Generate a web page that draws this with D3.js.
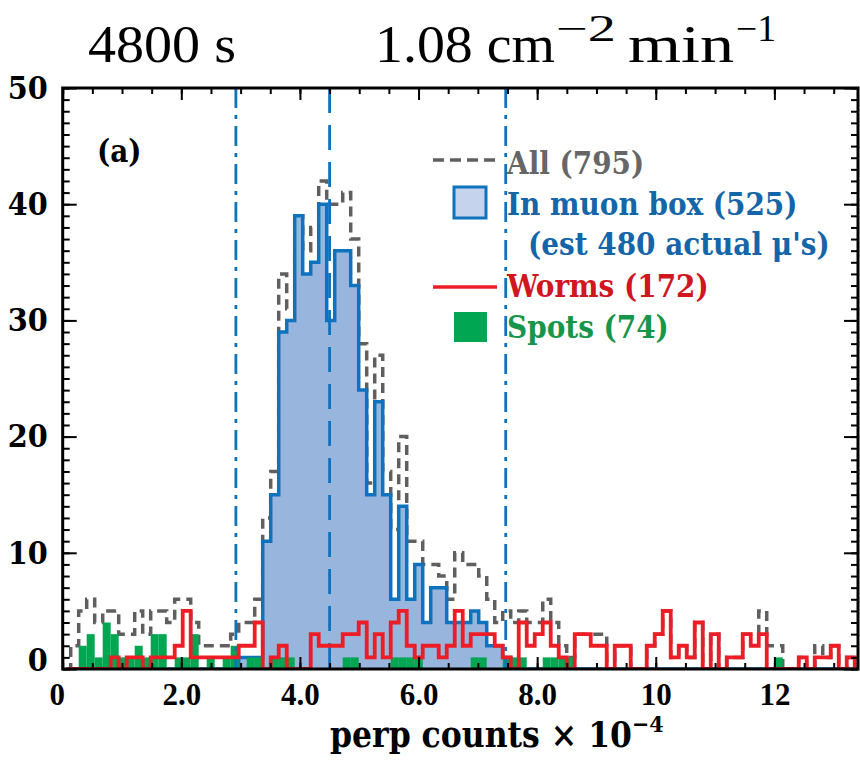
<!DOCTYPE html>
<html>
<head>
<meta charset="utf-8">
<script src="https://cdn.jsdelivr.net/npm/d3@7"></script>
<style>
  body { margin: 0; background: #fff; }
  text { font-family: "Liberation Serif", serif; }
  .lab { font-family: "DejaVu Serif Condensed", "DejaVu Serif", serif; font-stretch: condensed; font-weight: bold; }
  .num { font-family: "Liberation Serif", serif; font-weight: bold; }
</style>
</head>
<body>
<div id="chart"></div>
<script>
var width = 860;
var height = 764;

// histogram bins start at 0, 100 bins of equal width
var binWidth = 0.1349;
var xMax = 13.41;
var yMax = 50;

var allCounts = [0,2,5,6,4,5,5,3,3,5, 3,5,5,4,6,6,4,2,2,2, 2,3,4,4,6,13,17,34,31,39,
  36,38,42,40,40,41,37,28,16,27, 17,12,20,11,11,9,9,8,6,10, 9,9,8,6,4,5,4,5,4,4,
  6,4,2,1,3,3,3,3,0,2, 2,0,0,2,3,5,1,2,1,4, 0,3,0,1,1,3,3,5,2,2, 0,0,1,0,2,1,2,0,1,0];
var muonCounts = [0,0,0,0,0,0,0,0,0,0, 0,0,0,0,0,0,0,0,0,0, 0,0,1,1,1,11,15,29,30,39,
  34,35,40,30,36,36,33,24,15,23, 15,6,14,6,9,4,7,7,4,4, 4,5,4,2,2,1,0,0,0,0,
  0,0,0,0,0,0,0,0,0,0, 0,0,0,0,0,0,0,0,0,0, 0,0,0,0,0,0,0,0,0,0, 0,0,0,0,0,0,0,0,0,0];
var wormCounts = [0,0,0,0,0,0,1,0,1,1, 0,1,1,1,2,5,1,1,1,1, 1,1,2,2,4,0,1,2,0,0,
  0,3,2,2,2,3,3,4,1,3, 1,4,5,2,1,2,2,1,2,5, 2,3,3,3,2,1,0,4,2,3,
  4,2,1,0,3,3,2,2,0,2, 2,0,0,2,3,5,1,2,1,4, 0,3,0,1,1,3,2,3,0,0, 0,0,1,0,1,1,2,0,1,0];
var spotCounts = [0,0,2,3,1,4,3,1,1,2, 1,3,3,0,1,1,3,0,1,0, 1,2,0,1,1,0,1,1,1,0,
  0,0,0,0,0,1,1,0,0,0, 0,1,1,1,1,0,0,0,0,0, 0,1,1,0,0,1,1,1,0,0,
  1,1,1,1,0,0,0,0,0,0, 0,0,0,0,0,0,0,0,0,0, 0,0,0,0,0,0,0,0,0,1, 0,0,0,0,0,0,0,0,0,0];

var refLines = [2.92, 4.5, 7.47];
var refDash = ["20,7,4,7", "25,12", "20,7,4,7"];
var xMajor = [0, 2, 4, 6, 8, 10, 12];
var xTickLabels = ["0", "2.0", "4.0", "6.0", "8.0", "10", "12"];
var yMajor = [0, 10, 20, 30, 40, 50];

var legendItems = [
  {label: "All (795)", color: "#666666", kind: "dash"},
  {label: "In muon box (525)", color: "#1565a9", kind: "box"},
  {label: "Worms (172)", color: "#d0161f", kind: "line"},
  {label: "Spots (74)", color: "#16964a", kind: "fill"}
];

var pLeft = 62.7, pRight = 858, pTop = 88, pBottom = 669;

var svg = d3.select("#chart").append("svg")
  .attr("width", width)
  .attr("height", height);

var x = d3.scaleLinear().domain([0, xMax]).range([pLeft, pRight]);
var y = d3.scaleLinear().domain([0, yMax]).range([pBottom, pTop]);

svg.append("clipPath").attr("id", "plotclip")
  .append("rect").attr("x", pLeft).attr("y", pTop)
  .attr("width", pRight - pLeft).attr("height", pBottom - pTop);

var plot = svg.append("g").attr("clip-path", "url(#plotclip)");

// IDL psym=10 style step: starts and ends at bin centres
function stepPoints(counts) {
  var pts = [[binWidth / 2, counts[0]]];
  for (var i = 1; i < counts.length; i++) {
    pts.push([i * binWidth, counts[i - 1]]);
    pts.push([i * binWidth, counts[i]]);
  }
  pts.push([(counts.length - 0.5) * binWidth, counts[counts.length - 1]]);
  return pts;
}

var line = d3.line()
  .x(function(d) { return x(d[0]); })
  .y(function(d) { return y(d[1]); });

var area = d3.area()
  .curve(d3.curveStepAfter)
  .x(function(d, i) { return x(i * binWidth); })
  .y0(y(0))
  .y1(function(d) { return y(d); });

// all events (dashed grey)
plot.append("path")
  .attr("d", line(stepPoints(allCounts)))
  .attr("fill", "none")
  .attr("stroke", "#5f5f5f")
  .attr("stroke-width", 3.5)
  .attr("stroke-dasharray", "10,6");

// muon box histogram
plot.append("path")
  .attr("d", area(muonCounts.concat([muonCounts[muonCounts.length - 1]])))
  .attr("fill", "#98b5de");
plot.append("path")
  .attr("d", line(stepPoints(muonCounts)))
  .attr("fill", "none")
  .attr("stroke", "#0f72bd")
  .attr("stroke-width", 3.5);

// spots
plot.selectAll(".spot")
  .data(spotCounts)
  .enter().append("rect")
  .attr("class", "spot")
  .attr("x", function(d, i) { return x(i * binWidth); })
  .attr("width", x(binWidth) - x(0))
  .attr("y", function(d) { return y(d); })
  .attr("height", function(d) { return y(0) - y(d); })
  .attr("fill", "#00a651");

// reference lines
plot.selectAll(".ref")
  .data(refLines)
  .enter().append("line")
  .attr("class", "ref")
  .attr("x1", function(d) { return x(d); })
  .attr("x2", function(d) { return x(d); })
  .attr("y1", pTop)
  .attr("y2", pBottom)
  .attr("stroke", "#0f72bd")
  .attr("stroke-width", 2.8)
  .attr("stroke-dasharray", function(d, i) { return refDash[i]; });

// worms
plot.append("path")
  .attr("d", line(stepPoints(wormCounts)))
  .attr("fill", "none")
  .attr("stroke", "#ee1c25")
  .attr("stroke-width", 3.8);

// axes
function styleAxis(g) {
  g.select(".domain").remove();
  g.selectAll(".tick line").attr("stroke", "#000").attr("stroke-width", 2);
  g.selectAll("text").attr("fill", "#000");
}

var xMinor = d3.range(0, xMax, 0.5);
var yMinor = d3.range(0, yMax + 1, 1);

svg.append("g").attr("transform", "translate(0," + pBottom + ")")
  .call(d3.axisBottom(x).tickValues(xMinor).tickSize(-6).tickFormat(""))
  .call(styleAxis);
svg.append("g").attr("transform", "translate(0," + pTop + ")")
  .call(d3.axisTop(x).tickValues(xMinor).tickSize(-6).tickFormat(""))
  .call(styleAxis);
var xLab = svg.append("g").attr("transform", "translate(0," + pBottom + ")")
  .call(d3.axisBottom(x).tickValues(xMajor).tickSize(-12).tickPadding(14)
    .tickFormat(function(d, i) { return xTickLabels[i]; }))
  .call(styleAxis);
xLab.selectAll("text").attr("class", "num").style("font-size", "31px")
  .attr("dx", function(d) { return d === 0 ? -6 : 0; });
svg.append("g").attr("transform", "translate(0," + pTop + ")")
  .call(d3.axisTop(x).tickValues(xMajor).tickSize(-12).tickFormat(""))
  .call(styleAxis);

svg.append("g").attr("transform", "translate(" + pLeft + ",0)")
  .call(d3.axisLeft(y).tickValues(yMinor).tickSize(-7).tickFormat(""))
  .call(styleAxis);
svg.append("g").attr("transform", "translate(" + pRight + ",0)")
  .call(d3.axisRight(y).tickValues(yMinor).tickSize(-7).tickFormat(""))
  .call(styleAxis);
var yLab = svg.append("g").attr("transform", "translate(" + pLeft + ",0)")
  .call(d3.axisLeft(y).tickValues(yMajor).tickSize(-14).tickPadding(15).tickFormat(d3.format("d")))
  .call(styleAxis);
yLab.selectAll("text").attr("class", "lab").style("font-size", "32px")
  .attr("y", function(d) { return d === 0 ? -9 : 0; });
svg.append("g").attr("transform", "translate(" + pRight + ",0)")
  .call(d3.axisRight(y).tickValues(yMajor).tickSize(-14).tickFormat(""))
  .call(styleAxis);

svg.append("rect")
  .attr("x", pLeft).attr("y", pTop)
  .attr("width", pRight - pLeft).attr("height", pBottom - pTop)
  .attr("fill", "none").attr("stroke", "#000").attr("stroke-width", 3);

// x title
var xt = svg.append("text").attr("class", "lab")
  .attr("x", 330).attr("y", 747)
  .style("font-size", "35px");
xt.append("tspan").text("perp counts \u00d7 10");
xt.append("tspan").attr("dy", -15).style("font-size", "23px").text("\u22124");

// title, placed word by word
var titleParts = [
  {t: "4800 s", x: 88, y: 62, size: 52, len: 148},
  {t: "1.08 cm", x: 375, y: 62, size: 52, len: 180},
  {t: "\u22122", x: 556, y: 41, size: 37, len: 60},
  {t: "min", x: 628, y: 62, size: 52, len: 106},
  {t: "\u22121", x: 736, y: 41, size: 37, len: 40}
];
svg.selectAll(".ttl")
  .data(titleParts)
  .enter().append("text")
  .attr("class", "ttl")
  .attr("x", function(d) { return d.x; })
  .attr("y", function(d) { return d.y; })
  .attr("textLength", function(d) { return d.len; })
  .attr("lengthAdjust", "spacingAndGlyphs")
  .style("font-size", function(d) { return d.size + "px"; })
  .text(function(d) { return d.t; });

// panel label
svg.append("text").attr("class", "lab")
  .attr("x", 97).attr("y", 162)
  .style("font-size", "31px")
  .text("(a)");

// legend
var legY = [174, 215, 297, 338];
var leg = svg.append("g");
legendItems.forEach(function(d, i) {
  var cy = legY[i] - 12;
  if (d.kind === "dash") {
    leg.append("line").attr("x1", 433).attr("x2", 497).attr("y1", cy - 2).attr("y2", cy - 2)
      .attr("stroke", "#5f5f5f").attr("stroke-width", 3.5).attr("stroke-dasharray", "11,6");
  } else if (d.kind === "line") {
    leg.append("line").attr("x1", 433).attr("x2", 497).attr("y1", cy + 2).attr("y2", cy + 2)
      .attr("stroke", "#ee1c25").attr("stroke-width", 3.5);
  } else if (d.kind === "box") {
    leg.append("rect").attr("x", 454).attr("y", cy - 16).attr("width", 32).attr("height", 31)
      .attr("fill", "#c6d3ec").attr("stroke", "#0f72bd").attr("stroke-width", 3);
  } else {
    leg.append("rect").attr("x", 454).attr("y", cy - 14).attr("width", 33).attr("height", 30)
      .attr("fill", "#00a651");
  }
  leg.append("text").attr("class", "lab")
    .attr("x", 507).attr("y", legY[i])
    .attr("fill", d.color)
    .style("font-size", "31px")
    .text(d.label);
});
leg.append("text").attr("class", "lab")
  .attr("x", 528).attr("y", 255)
  .attr("fill", "#1565a9")
  .style("font-size", "31px")
  .text("(est 480 actual \u03bc's)");
</script>
</body>
</html>
